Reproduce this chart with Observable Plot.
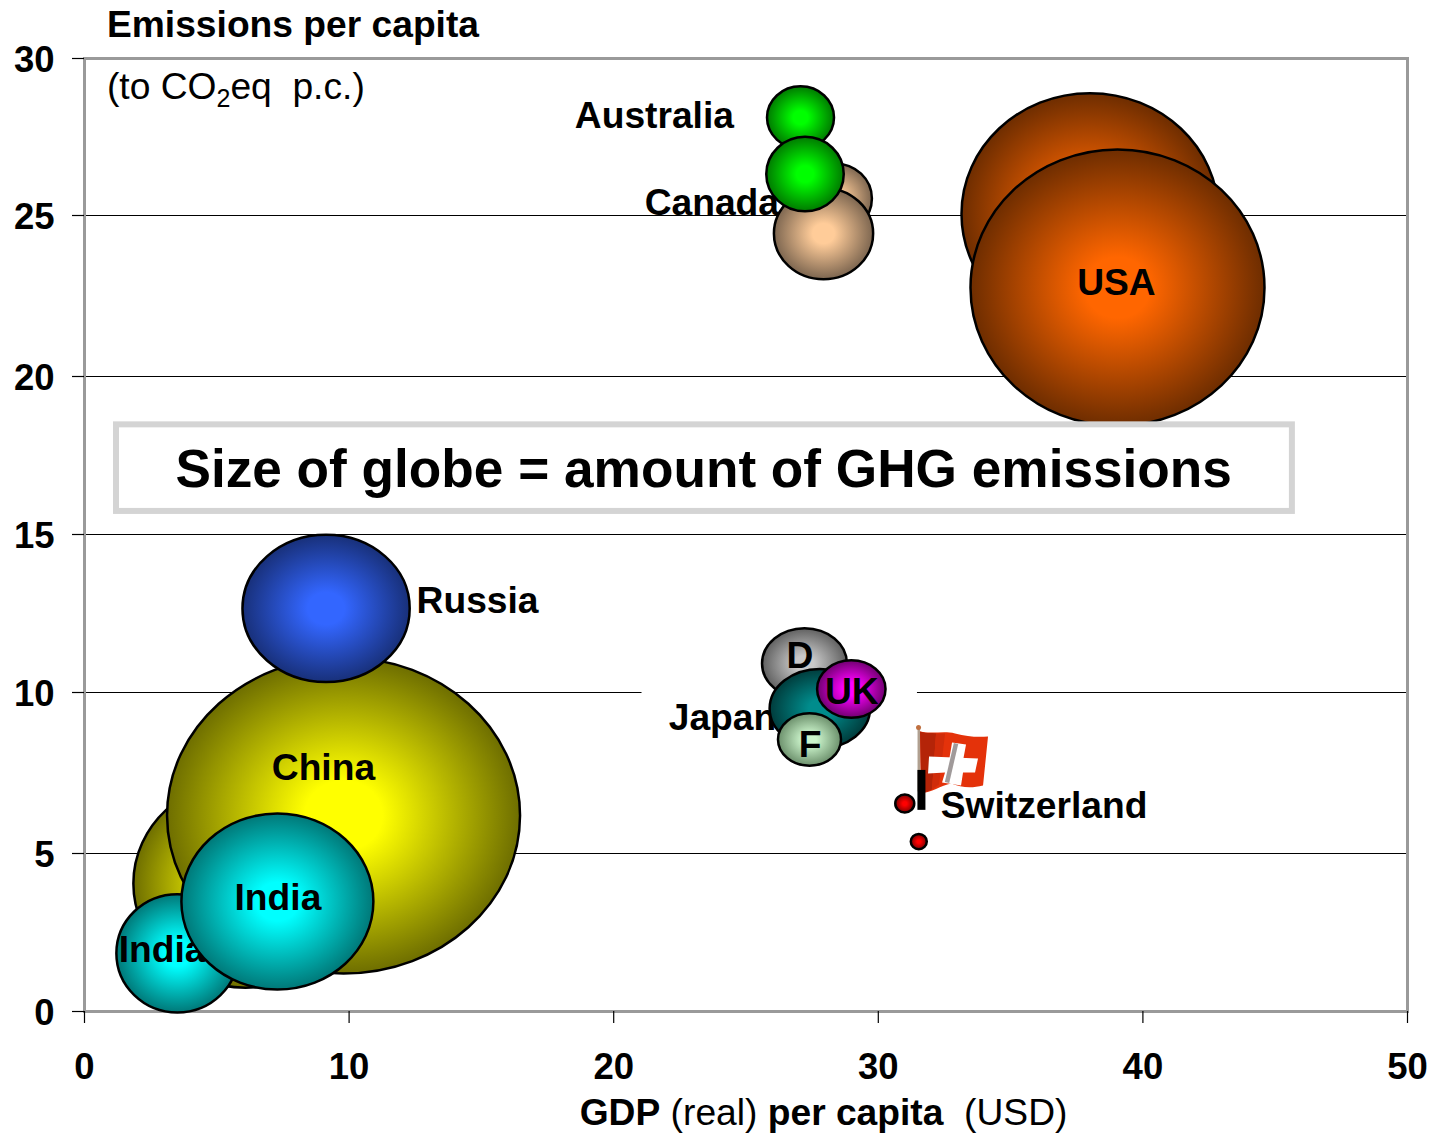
<!DOCTYPE html>
<html>
<head>
<meta charset="utf-8">
<script src="https://cdn.jsdelivr.net/npm/d3@7"></script>
<script src="https://cdn.jsdelivr.net/npm/@observablehq/plot@0.6"></script>
<style>html,body{margin:0;padding:0;background:#fff}svg{display:block}</style>
</head>
<body>
<div id="chart"></div>
<script>
// ---- data ----
const xTicks = [0, 10, 20, 30, 40, 50];
const yTicks = [0, 5, 10, 15, 20, 25, 30];
const names = ["USA (earlier)", "USA", "Canada (earlier)", "Canada", "Australia (earlier)", "Australia",
  "China (earlier)", "China", "India (earlier)", "India", "Russia", "D", "Japan", "UK", "F",
  "Switzerland (a)", "Switzerland (b)"];
const gdpPerCapita = [38.0, 39.04, 28.36, 27.93, 27.06, 27.23, 6.08, 9.79, 3.51, 7.29, 9.13, 27.21, 27.79, 28.98, 27.4, 31.0, 31.53];
const emissionsPerCapita = [25.05, 22.76, 25.54, 24.44, 28.12, 26.32, 4.05, 6.18, 1.84, 3.48, 12.66, 10.92, 9.5, 10.11, 8.54, 6.55, 5.37];
const totalEmissions = [5.5, 7.2, 0.456, 0.82, 0.374, 0.5, 4.18, 10.38, 1.24, 3.07, 2.33, 0.6, 0.84, 0.39, 0.331, 0.03, 0.0213];

// ---- styles ----
const aspect = [0.94, 0.94, 0.95, 0.92, 0.93, 0.96, 0.93, 0.895, 0.97, 0.917, 0.88, 0.83, 0.79, 0.84, 0.83, 0.95, 0.95];
const glow = [
  ["#ff6600", "#6e2d00"], ["#ff6600", "#6e2d00"], ["#ffcc99", "#7d6650"], ["#ffcc99", "#7d6650"],
  ["#00ff00", "#007a00"], ["#00ff00", "#007a00"], ["#ffff00", "#6e6e00"], ["#ffff00", "#6e6e00"],
  ["#00ffff", "#007878"], ["#00ffff", "#007878"], ["#3366ff", "#18307a"], ["#c8c8c8", "#606060"],
  ["#008c8c", "#003c3c"], ["#ff00ff", "#700070"], ["#ccf5cc", "#6b8f6b"], ["#ff0000", "#7a0000"], ["#ff0000", "#7a0000"]
];

const FONT = "'Liberation Sans', Arial, sans-serif";
const flagSvg = `<svg xmlns="http://www.w3.org/2000/svg" viewBox="0 0 100 100">
<rect x="12.5" y="7" width="2.5" height="64" fill="#b0a090"/><circle cx="13.5" cy="7" r="2.5" fill="#c07040"/>
<path d="M15 11C28 14 38 10 50 13S72 17 83 16L78 65C66 68 56 67 46 63C36 65 26 72 16 73Z" fill="#e4320a"/>
<path d="M15 11C20 13 26 12 31 13L27 69C24 70 20 72 16 73Z" fill="#b42408"/>
<path d="M31 13L40 13L34 64L27 69Z" fill="#d02c0a"/>
<path d="M24 36L73 38L70 52L58 52L56 65L37 62L40 52L23 53Z" fill="#fff"/>
<path d="M47 22L61 24L58 40L44 40Z" fill="#fff"/>
<path d="M51 23L42 62" stroke="#a09a9a" stroke-width="4.5" fill="none"/></svg>`;
const flagSrc = "data:image/svg+xml," + encodeURIComponent(flagSvg);

const ellipse = (k) => ({
  draw(ctx, size) {
    const a = Math.sqrt(size / Math.PI), b = a * k, c = 0.5522847;
    ctx.moveTo(a, 0);
    ctx.bezierCurveTo(a, c * b, c * a, b, 0, b);
    ctx.bezierCurveTo(-c * a, b, -a, c * b, -a, 0);
    ctx.bezierCurveTo(-a, -c * b, -c * a, -b, 0, -b);
    ctx.bezierCurveTo(c * a, -b, a, -c * b, a, 0);
    ctx.closePath();
  }
});

const defs = () => {
  const d = d3.create("svg:defs");
  glow.forEach(([inner, outer], i) => {
    const g = d.append("radialGradient").attr("id", "glow" + i).attr("cx", "50%").attr("cy", "50%").attr("r", "50%");
    g.append("stop").attr("offset", "0%").attr("stop-color", inner);
    g.append("stop").attr("offset", "22%").attr("stop-color", inner);
    g.append("stop").attr("offset", "100%").attr("stop-color", outer);
  });
  return d.node();
};

const bubble = (i) => Plot.dot([i], {
  x: (j) => gdpPerCapita[j],
  y: (j) => emissionsPerCapita[j],
  r: (j) => totalEmissions[j],
  symbol: ellipse(aspect[i]),
  fill: `url(#glow${i})`,
  stroke: "black",
  strokeWidth: 2.5
});

const label = (text, x, y, textAnchor = "start", extra = {}) => Plot.text([text], {
  x: () => x, y: () => y, text: (d) => d, textAnchor,
  fontSize: 37.2, fontWeight: "bold", fill: "black", ...extra
});

// a single text whose pieces carry their own weight or size
const rich = (parts) => (index, scales, values, dims, ctx, next) => {
  const g = next(index, scales, values, dims, ctx);
  const t = g.querySelector("text");
  t.textContent = "";
  parts.forEach((p) => {
    const s = document.createElementNS("http://www.w3.org/2000/svg", "tspan");
    s.textContent = p.text;
    if (p.bold !== undefined) s.setAttribute("font-weight", p.bold ? "bold" : "normal");
    if (p.size) s.setAttribute("font-size", p.size);
    if (p.dy) s.setAttribute("dy", p.dy);
    t.appendChild(s);
  });
  return g;
};

const co2Parts = [
  { text: "(to CO" },
  { text: "2", size: 25, dy: 8 },
  { text: "eq\u00a0\u00a0p.c.)", dy: -8 }
];
const xLabelParts = [
  { text: "GDP", bold: true },
  { text: " (real) ", bold: false },
  { text: "per capita", bold: true },
  { text: "\u00a0\u00a0(USD)", bold: false }
];

const chart = Plot.plot({
  width: 1432, height: 1135,
  marginLeft: 84, marginRight: 25, marginTop: 58, marginBottom: 124,
  style: { fontFamily: FONT, background: "white", color: "black" },
  x: { domain: [0, 50], range: [84, 1407] },
  y: { type: "linear", domain: yTicks, range: [1011, 853, 692, 534, 376, 215, 58] },
  r: { type: "sqrt", domain: [0, 10.38], range: [0, 176.5] },
  marks: [
    defs,
    Plot.ruleY(yTicks.slice(1, -1), { stroke: "black", strokeWidth: 1 }),
    Plot.ruleY([10], { x1: 21.07, x2: 31.48, stroke: "white", strokeWidth: 4 }),
    Plot.frame({ stroke: "#9a9a9a", strokeWidth: 3 }),
    Plot.axisX({ ticks: xTicks, tickSize: 12, tickPadding: 30, fontSize: 36.5, fontWeight: "bold", label: null, stroke: "black", strokeWidth: 1.2 }),
    Plot.axisY({ ticks: yTicks, tickSize: 12, text: null, label: null, stroke: "black", strokeWidth: 1.2 }),
    Plot.axisY({ ticks: yTicks, tickSize: 0, tickPadding: 30, fontSize: 36.5, fontWeight: "bold", label: null, dy: 2 }),

    label("Emissions per capita", 0.85, 31.05),
    label("(to CO2eq  p.c.)", 0.85, 29.08, "start", { fontWeight: "normal", render: rich(co2Parts) }),
    label("GDP (real) per capita  (USD)", 27.93, -3.23, "middle", { fontWeight: "normal", render: rich(xLabelParts) }),

    label("Australia", 18.53, 28.15),
    label("Canada", 21.17, 25.38),
    bubble(0), bubble(1),
    label("USA", 39.0, 22.89, "middle"),
    bubble(2), bubble(3), bubble(4), bubble(5),

    Plot.rect([0], { x1: () => 1.21, x2: () => 45.65, y1: () => 18.47, y2: () => 15.73, fill: "white", stroke: "#d4d4d4", strokeWidth: 6 }),
    label("Size of globe = amount of GHG emissions", 23.4, 17.04, "middle", { fontSize: 53.2 }),

    bubble(6), bubble(7),
    label("China", 9.03, 7.66, "middle"),
    bubble(8),
    label("India", 1.29, 1.93),
    bubble(9),
    label("India", 7.31, 3.58, "middle"),
    bubble(10),
    label("Russia", 12.55, 12.88),

    label("Japan", 22.08, 9.2),
    bubble(11),
    label("D", 27.04, 11.15, "middle"),
    bubble(12), bubble(13),
    label("UK", 29.0, 10.0, "middle"),
    bubble(14),
    label("F", 27.42, 8.36, "middle"),

    Plot.image([flagSrc], { x: () => 32.9, y: () => 7.58, src: (d) => d, width: 100, height: 100 }),
    Plot.ruleX([31.63], { y1: 6.34, y2: 7.58, stroke: "black", strokeWidth: 8 }),
    bubble(15), bubble(16),
    label("Switzerland", 32.36, 6.46)
  ]
});
document.getElementById("chart").appendChild(chart);
</script>
</body>
</html>
